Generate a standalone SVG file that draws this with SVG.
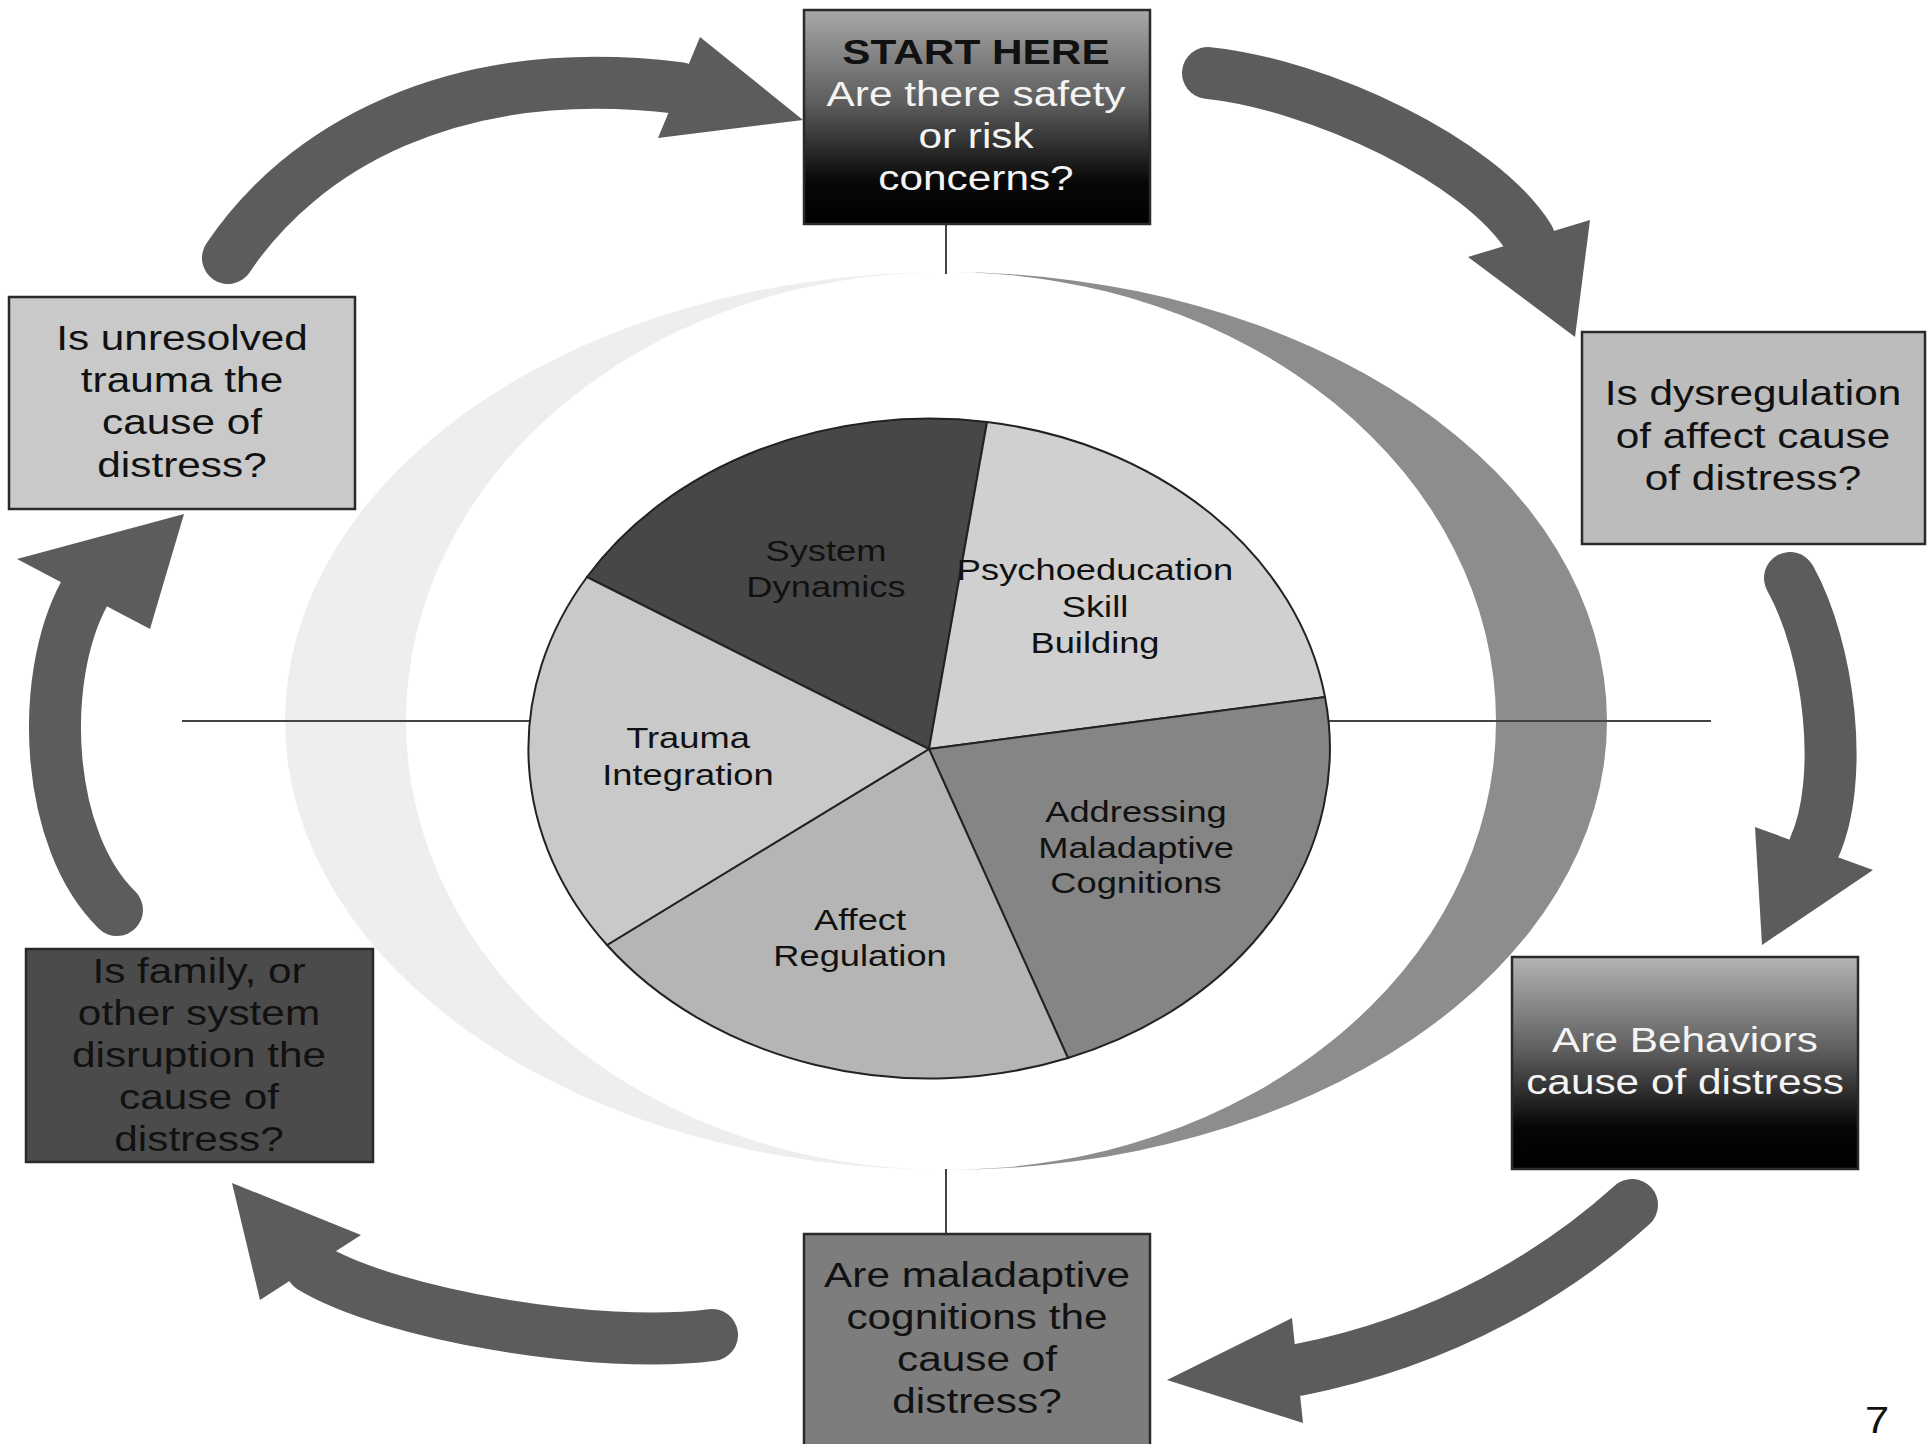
<svg xmlns="http://www.w3.org/2000/svg" width="1927" height="1444" viewBox="0 0 1927 1444">
<style>
.box{stroke:#2a2a2a;stroke-width:2.5}
.bt{font-family:"Liberation Sans",Arial,sans-serif;font-size:35px;text-anchor:middle;fill:#111}
.wt{fill:#f4f4f4}
.pt{font-family:"Liberation Sans",Arial,sans-serif;font-size:30px;text-anchor:middle;fill:#111}
.sl{stroke:#222;stroke-width:2}
.shaft{fill:none;stroke:#5c5c5c;stroke-width:52;stroke-linecap:round}
.head{fill:#5c5c5c}
.ax{stroke:#444;stroke-width:2}
</style>
<defs>
<linearGradient id="gS" x1="0" y1="0" x2="0" y2="1">
<stop offset="0" stop-color="#a8a8a8"/>
<stop offset="0.45" stop-color="#5a5a5a"/>
<stop offset="0.8" stop-color="#080808"/>
<stop offset="1" stop-color="#000"/>
</linearGradient>
<linearGradient id="gB" x1="0" y1="0" x2="0" y2="1">
<stop offset="0" stop-color="#b4b4b4"/>
<stop offset="0.45" stop-color="#5c5c5c"/>
<stop offset="0.8" stop-color="#060606"/>
<stop offset="1" stop-color="#000"/>
</linearGradient>
</defs>
<rect width="1927" height="1444" fill="#fff"/>

<g id="ring">
<line class="ax" x1="946" y1="224" x2="946" y2="274"/>
<line class="ax" x1="946" y1="1169" x2="946" y2="1234"/>
<path d="M946,272 A661,449 0 0 0 946,1170 A540,449 0 0 1 946,272 Z" fill="#eeeeee"/>
<path d="M946,272 A661,449 0 0 1 946,1170 A550,449 0 0 0 946,272 Z" fill="#8d8d8d"/>
<line class="ax" x1="182" y1="721" x2="1711" y2="721"/>
</g>

<g id="pie">
<path id="slice-system" class="sl" fill="#474747" d="M929,749 L587,577 A401,330 0 0 1 987,422 Z"/>
<path id="slice-psycho" class="sl" fill="#d0d0d0" d="M929,749 L987,422 A401,330 0 0 1 1325,697 Z"/>
<path id="slice-addressing" class="sl" fill="#858585" d="M929,749 L1325,697 A401,330 0 0 1 1068,1058 Z"/>
<path id="slice-affect" class="sl" fill="#b5b5b5" d="M929,749 L1068,1058 A401,330 0 0 1 607,945 Z"/>
<path id="slice-trauma" class="sl" fill="#c9c9c9" d="M929,749 L607,945 A401,330 0 0 1 587,577 Z"/>
<g transform="translate(826,0) scale(1.21,1)"><text class="pt" x="0" y="561">System</text><text class="pt" x="0" y="597">Dynamics</text></g>
<g transform="translate(1095,0) scale(1.21,1)"><text class="pt" x="0" y="580">Psychoeducation</text><text class="pt" x="0" y="617">Skill</text><text class="pt" x="0" y="653">Building</text></g>
<g transform="translate(688,0) scale(1.21,1)"><text class="pt" x="0" y="748">Trauma</text><text class="pt" x="0" y="785">Integration</text></g>
<g transform="translate(1136,0) scale(1.21,1)"><text class="pt" x="0" y="822">Addressing</text><text class="pt" x="0" y="858">Maladaptive</text><text class="pt" x="0" y="893">Cognitions</text></g>
<g transform="translate(860,0) scale(1.21,1)"><text class="pt" x="0" y="930">Affect</text><text class="pt" x="0" y="966">Regulation</text></g>
</g>

<g id="connectors">
<path class="shaft" d="M228,258 C300,150 450,60 679,88"/>
<polygon class="head" points="700,37 803,120 658,138"/>
<path class="shaft" d="M1208,73 C1320,85 1480,160 1529,238"/>
<polygon class="head" points="1468,257 1575,337 1590,220"/>
<path class="shaft" d="M1790,578 C1830,650 1845,780 1814,848"/>
<polygon class="head" points="1755,827 1762,945 1873,870"/>
<path class="shaft" d="M1632,1205 C1560,1270 1450,1340 1298,1370"/>
<polygon class="head" points="1292,1318 1167,1380 1303,1423"/>
<path class="shaft" d="M712,1335 C600,1350 390,1315 311,1267"/>
<polygon class="head" points="361,1235 232,1183 260,1300"/>
<path class="shaft" d="M117,910 C45,840 38,680 84,594"/>
<polygon class="head" points="17,559 184,514 150,629"/>
</g>

<g id="node-start">
<rect class="box" x="804" y="10" width="346" height="214" fill="url(#gS)"/>
<g transform="translate(976,0) scale(1.21,1)">
<text class="bt" x="0" y="64" font-weight="bold">START HERE</text>
<text class="bt wt" x="0" y="106">Are there safety</text>
<text class="bt wt" x="0" y="148">or risk</text>
<text class="bt wt" x="0" y="190">concerns?</text>
</g>
</g>

<g id="node-dysregulation">
<rect class="box" x="1582" y="332" width="343" height="212" fill="#bcbcbc"/>
<g transform="translate(1753,0) scale(1.21,1)">
<text class="bt" x="0" y="405">Is dysregulation</text>
<text class="bt" x="0" y="448">of affect cause</text>
<text class="bt" x="0" y="490">of distress?</text>
</g>
</g>

<g id="node-behaviors">
<rect class="box" x="1512" y="957" width="346" height="212" fill="url(#gB)"/>
<g transform="translate(1685,0) scale(1.21,1)">
<text class="bt wt" x="0" y="1052">Are Behaviors</text>
<text class="bt wt" x="0" y="1094">cause of distress</text>
</g>
</g>

<g id="node-cognitions">
<rect class="box" x="804" y="1234" width="346" height="215" fill="#7d7d7d"/>
<g transform="translate(977,0) scale(1.21,1)">
<text class="bt" x="0" y="1287">Are maladaptive</text>
<text class="bt" x="0" y="1329">cognitions the</text>
<text class="bt" x="0" y="1371">cause of</text>
<text class="bt" x="0" y="1413">distress?</text>
</g>
</g>

<g id="node-family">
<rect class="box" x="26" y="949" width="347" height="213" fill="#4b4b4b"/>
<g transform="translate(199,0) scale(1.21,1)">
<text class="bt" x="0" y="983">Is family, or</text>
<text class="bt" x="0" y="1025">other system</text>
<text class="bt" x="0" y="1067">disruption the</text>
<text class="bt" x="0" y="1109">cause of</text>
<text class="bt" x="0" y="1151">distress?</text>
</g>
</g>

<g id="node-trauma">
<rect class="box" x="9" y="297" width="346" height="212" fill="#c9c9c9"/>
<g transform="translate(182,0) scale(1.21,1)">
<text class="bt" x="0" y="350">Is unresolved</text>
<text class="bt" x="0" y="392">trauma the</text>
<text class="bt" x="0" y="434">cause of</text>
<text class="bt" x="0" y="477">distress?</text>
</g>
</g>

<g transform="translate(1877,0) scale(1.21,1)"><text class="bt" x="0" y="1433" style="font-size:36px">7</text></g>
</svg>
